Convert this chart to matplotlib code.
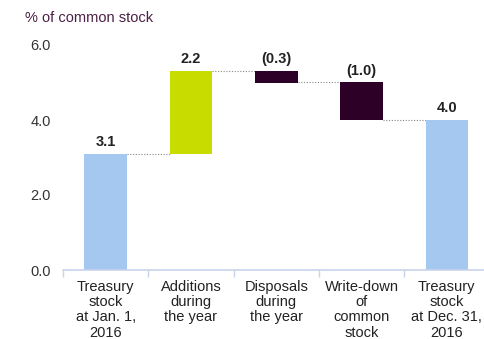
import matplotlib
matplotlib.use("Agg")
import matplotlib.pyplot as plt

categories = ["Treasury\nstock\nat Jan. 1,\n2016", "Additions\nduring\nthe year",
              "Disposals\nduring\nthe year", "Write-down\nof\ncommon\nstock",
              "Treasury\nstock\nat Dec. 31,\n2016"]
changes = [3.1, 2.2, -0.3, -1.0, 4.0]
labels = ["3.1", "2.2", "(0.3)", "(1.0)", "4.0"]
kinds = ["total", "up", "down", "down", "total"]
yticks = [0.0, 2.0, 4.0, 6.0]

colors = {"total": "#a4c8f0", "up": "#c8dc00", "down": "#2d0028"}

plt.rcParams['font.family'] = ['Liberation Sans', 'DejaVu Sans']

fig = plt.figure(figsize=(4.84, 3.39), dpi=100)
W, H = 484, 339
ax = fig.add_axes([63 / W, 69 / H, 426.5 / W, 225 / H])

bottoms, heights = [], []
level = 0.0
for k, v in zip(kinds, changes):
    if k == "total":
        bottoms.append(0.0)
        heights.append(v)
        level = v
    else:
        if v >= 0:
            bottoms.append(level)
            heights.append(v)
        else:
            bottoms.append(level + v)
            heights.append(-v)
        level += v

bw = 0.5
x = list(range(len(categories)))
ax.bar(x, heights, bottom=bottoms, width=bw,
       color=[colors[k] for k in kinds], zorder=2)

# value labels
for i in x:
    top = bottoms[i] + heights[i]
    ax.annotate(labels[i], (i, top), xytext=(0, 3.5), textcoords="offset points",
                ha="center", va="bottom", fontsize=10.5, fontweight="bold", color="#222222")

# connectors
level = 0.0
levels = []
for k, v in zip(kinds, changes):
    level = v if k == "total" else level + v
    levels.append(level)
for i in range(len(x) - 1):
    ax.plot([i + bw / 2, i + 1 - bw / 2], [levels[i], levels[i]],
            linestyle=(0, (1, 1.5)), color="#888888", lw=0.8, zorder=1)

ax.set_xlim(-0.5, len(categories) - 0.5)
ax.set_ylim(0, 6)
ax.set_yticks(yticks)
ax.set_yticklabels([f"{t:.1f}" for t in yticks], fontsize=10.5, color="#333333")
ax.tick_params(axis="y", length=0, pad=9)

ax.set_xticks(x)
ax.set_xticklabels(categories, fontsize=10.5, color="#222222", linespacing=1.12)
ax.tick_params(axis="x", which="major", length=0, pad=7)
ax.set_xticks([i - 0.5 for i in range(len(categories) + 1)], minor=True)
ax.tick_params(axis="x", which="minor", length=5, color="#c8d4ea", width=1)

for s in ["top", "right", "left"]:
    ax.spines[s].set_visible(False)
ax.spines["bottom"].set_color("#c8d4ea")
ax.spines["bottom"].set_linewidth(1.2)

fig.text(25 / W, 1 - 18 / H, "% of common stock", fontsize=10.5, color="#4a2045",
         ha="left", va="center")

fig.savefig("out.png", dpi=100)
